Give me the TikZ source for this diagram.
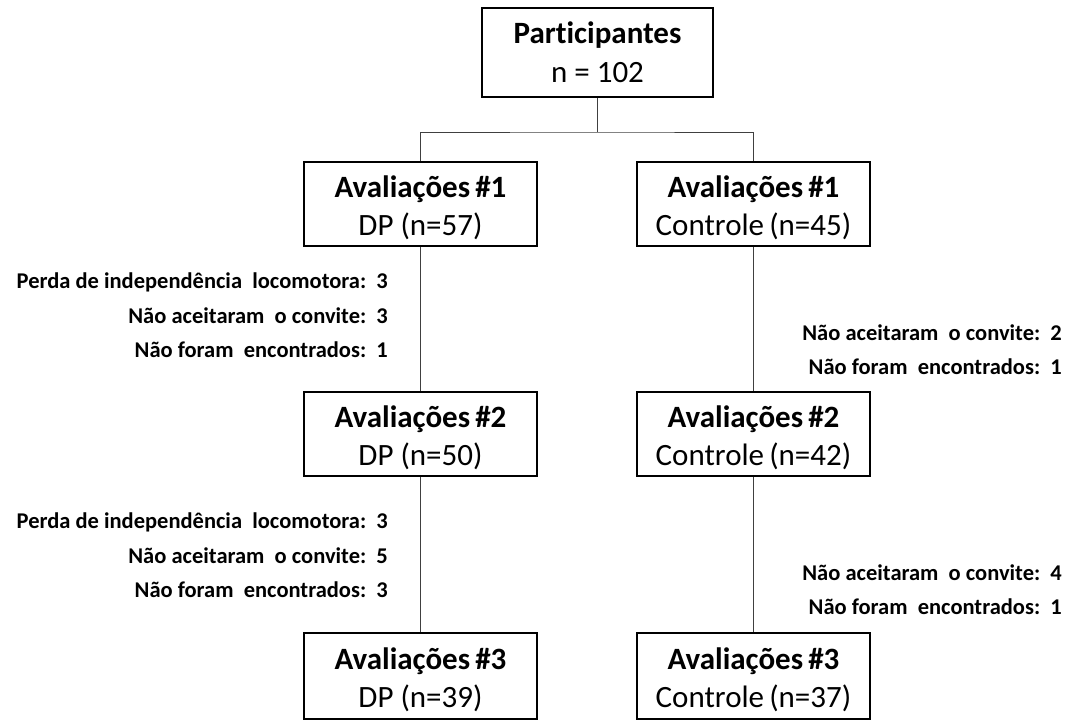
\documentclass[tikz,border=0pt]{standalone}
\usepackage{fontspec}
\setmainfont{Carlito}[Ligatures=NoCommon]
\begin{document}
\begin{tikzpicture}[x=1pt,y=-1pt,
  box/.style={draw=black, line width=2pt, minimum width=233pt, minimum height=84pt, align=center, inner sep=0pt, text height=66pt, text depth=4pt, font=\fontsize{31}{38}\selectfont},
  conn/.style={draw=black!75, line width=1pt},
  lbl/.style={anchor=east, inner sep=0pt, font=\fontsize{22.5}{24}\selectfont\bfseries}]
\useasboundingbox (0,0) rectangle (1066,720);
\node[box, minimum width=231pt, minimum height=89pt, text height=63pt, text depth=4pt, font=\fontsize{31}{39}\selectfont] (top) at (597.5,52.5) {\textbf{Participantes}\\n = 102};
\node[box] (l1) at (420.5,204) {\textbf{Avaliações\,\#1}\\DP (n=57)};
\node[box] (r1) at (753.5,204) {\textbf{Avaliações\,\#1}\\Controle\,(n=45)};
\node[box] (l2) at (420.5,434) {\textbf{Avaliações\,\#2}\\DP (n=50)};
\node[box] (r2) at (753.5,434) {\textbf{Avaliações\,\#2}\\Controle\,(n=42)};
\node[box, minimum height=86pt] (l3) at (420.5,676) {\textbf{Avaliações\,\#3}\\DP (n=39)};
\node[box, minimum height=86pt] (r3) at (753.5,676) {\textbf{Avaliações\,\#3}\\Controle\,(n=37)};
\coordinate (j) at (597.5,132);
\draw[conn] (top) -- (j);
\draw[conn] (l1.north) |- (j) -| (r1.north);
\draw[conn] (l1) -- (l2);
\draw[conn] (l2) -- (l3);
\draw[conn] (r1) -- (r2);
\draw[conn] (r2) -- (r3);
\node[lbl] (a1) at (388,282) {Perda de independência\ \ locomotora:\ \ 3};
\node[lbl] (a2) at (388,316) {Não aceitaram\ \ o convite:\ \ 3};
\node[lbl] (a3) at (388,350) {Não foram\ \ encontrados:\ \ 1};
\node[lbl] (b1) at (1062,333) {Não aceitaram\ \ o convite:\ \ 2};
\node[lbl] (b2) at (1062,367) {Não foram\ \ encontrados:\ \ 1};
\node[lbl] (c1) at (388,522) {Perda de independência\ \ locomotora:\ \ 3};
\node[lbl] (c2) at (388,556) {Não aceitaram\ \ o convite:\ \ 5};
\node[lbl] (c3) at (388,590) {Não foram\ \ encontrados:\ \ 3};
\node[lbl] (d1) at (1062,573) {Não aceitaram\ \ o convite:\ \ 4};
\node[lbl] (d2) at (1062,607) {Não foram\ \ encontrados:\ \ 1};
\end{tikzpicture}
\end{document}
